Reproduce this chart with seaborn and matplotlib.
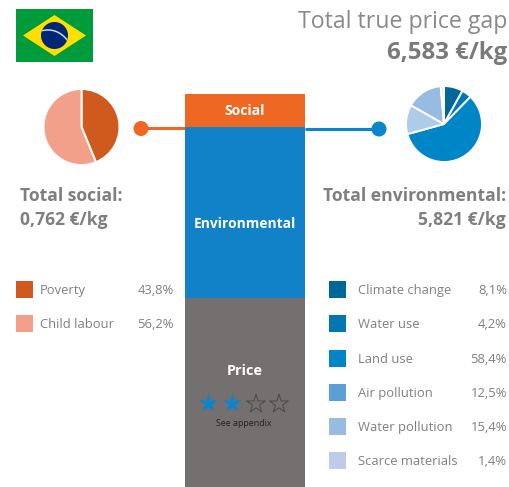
import matplotlib
matplotlib.use("Agg")
import matplotlib.pyplot as plt
from matplotlib.patches import Rectangle, Polygon, Circle, PathPatch
from matplotlib.path import Path
import seaborn as sns
import pandas as pd

sns.set_theme(style="white")
plt.rcParams['font.family'] = ['Open Sans', 'DejaVu Sans']

# Data
stack_labels = ["Price", "Environmental", "Social"]
stack_values = [6.43, 5.821, 1.12]
stack_colors = ["#747070", "#1182C8", "#EE6723"]
social_labels = ["Poverty", "Child labour"]
social_values = [43.8, 56.2]
social_colors = ["#D05A1E", "#F3A08A"]
env_labels = ["Climate change", "Water use", "Land use", "Air pollution", "Water pollution", "Scarce materials"]
env_values = [8.1, 4.2, 58.4, 12.5, 15.4, 1.4]
env_colors = ["#00679B", "#0076B2", "#0085C7", "#5A9FD6", "#98BBE1", "#BDCDE9"]
env_pie_colors = ["#00679B", "#0076B2", "#0085C7", "#AECBE8", "#98BBE1", "#E4ECF6"]
title_text = "Total true price gap"
title_value = "6,583 €/kg"
social_total = "Total social:\n0,762 €/kg"
env_total = "Total environmental:\n5,821 €/kg"

W, H = 510, 487
fig = plt.figure(figsize=(W / 100, H / 100), dpi=100, facecolor="white")
GREY = "#808080"
TXT = "#7F7F7F"

# Pixel-space canvas
bg = fig.add_axes([0, 0, 1, 1], zorder=1)
bg.set_xlim(0, W); bg.set_ylim(H, 0); bg.axis("off")

def pt(px):
    return px * 0.72

# Flag
bg.add_patch(Rectangle((16, 9), 77, 53, color="#009B3A", lw=0))
bg.add_patch(Polygon([(23, 35.5), (54.5, 15), (86, 35.5), (54.5, 56)], color="#FEDF00", lw=0))
disc = Circle((54.5, 35.5), 13.5, color="#002776", lw=0)
bg.add_patch(disc)
band = PathPatch(Path([(40.5, 31), (57, 26.5), (68, 41)], [Path.MOVETO, Path.CURVE3, Path.CURVE3]),
                 facecolor="none", edgecolor="#C9DCD8", lw=1.1)
bg.add_patch(band)
band.set_clip_path(disc)

# Connectors
bg.plot([141, 185], [128, 128], color="#EE6723", lw=2.2, solid_capstyle="butt")
bg.add_patch(Circle((141, 128.5), 7.5, color="#EE6723", lw=0))
bg.plot([305, 379], [129, 129], color="#0A86CC", lw=2.2, solid_capstyle="butt")
bg.add_patch(Circle((379, 129), 7.5, color="#0A86CC", lw=0))

# Header
bg.text(507, 22, title_text, ha="right", va="center", fontsize=pt(23.1), color="#8A8A8A")
bg.text(507, 53, title_value, ha="right", va="center", fontsize=pt(24), color="#7A7A7A", fontweight="bold")

# Totals
bg.text(20, 208, social_total, ha="left", va="center", fontsize=pt(17.5), color=TXT, fontweight="bold", linespacing=1.4)
bg.text(506, 208, env_total, ha="right", va="center", fontsize=pt(17.5), color=TXT, fontweight="bold", linespacing=1.4)

# Legends
def legend(x0, xtext, xval, ys, labels, vals, cols):
    for y, l, v, c in zip(ys, labels, vals, cols):
        bg.add_patch(Rectangle((x0, y - 8.5), 17, 17, color=c, lw=0))
        bg.text(xtext, y + 1.5, l, ha="left", va="center", fontsize=pt(13), color=GREY)
        bg.text(xval, y + 1.5, f"{v:.1f}%".replace(".", ","), ha="right", va="center", fontsize=pt(13), color=GREY)

legend(16, 40, 174, [289, 323], social_labels, social_values, social_colors)
legend(329, 358, 507, [289, 323, 358, 392, 426, 460], env_labels, env_values, env_colors)

# Stacked bar
ax = fig.add_axes([185 / W, 0, 120 / W, (H - 94) / H], zorder=2)
bottom = 0
for lab, val, col in zip(stack_labels, stack_values, stack_colors):
    df = pd.DataFrame({"k": [""], "v": [val]})
    sns.barplot(data=df, x="k", y="v", ax=ax, color=col, width=1, bottom=bottom,
                saturation=1, linewidth=0, errorbar=None)
    bottom += val
ax.set_xlim(-0.5, 0.5)
ax.set_ylim(0, sum(stack_values))
ax.axis("off")

# Bar labels and rating on top
fg = fig.add_axes([0, 0, 1, 1], zorder=3)
fg.set_xlim(0, W); fg.set_ylim(H, 0); fg.axis("off"); fg.patch.set_alpha(0)
fg.text(245, 111, "Social", ha="center", va="center", color="white", fontsize=pt(14), fontweight="bold")
fg.text(245, 224, "Environmental", ha="center", va="center", color="white", fontsize=pt(13.8), fontweight="bold")
fg.text(245, 371, "Price", ha="center", va="center", color="white", fontsize=pt(14.5), fontweight="bold")
star_x = [208, 232, 256, 279]
fg.scatter(star_x[:2], [403, 403], marker="*", s=200, color="#0A86CC", linewidths=0)
fg.scatter(star_x[2:], [404, 404], marker="*", s=200, facecolors="none", edgecolors="#4A4848", linewidths=0.7)
fg.text(244, 424, "See appendix", ha="center", va="center", color="#222222", fontsize=pt(8.9))

# Pies
def pie(cx, cy, r, vals, cols):
    a = fig.add_axes([(cx - r) / W, (H - cy - r) / H, 2 * r / W, 2 * r / H], zorder=2)
    a.pie(vals, colors=cols, startangle=90, counterclock=False, radius=1,
          wedgeprops=dict(edgecolor="white", linewidth=1.4))
    a.set_xlim(-1, 1); a.set_ylim(-1, 1)

pie(81.5, 127, 38, social_values, social_colors)
pie(444, 124, 38, env_values, env_pie_colors)

fig.savefig("out.png", dpi=100, facecolor="white")
